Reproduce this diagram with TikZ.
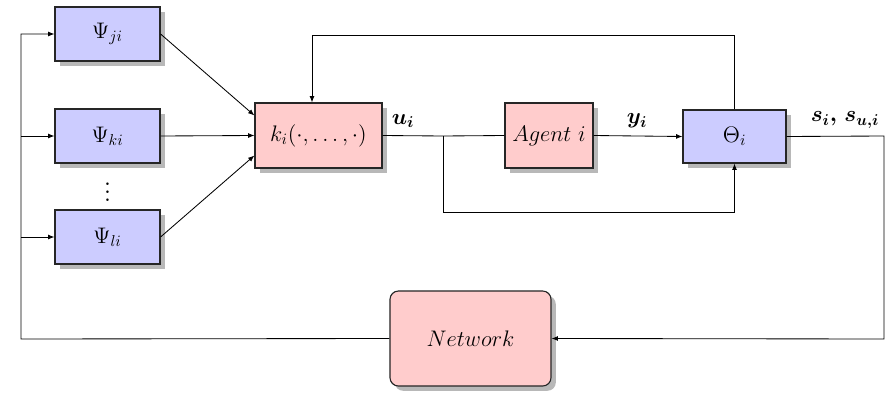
\RequirePackage{fix-cm}
\documentclass[tikz,border=0pt]{standalone}
\usepackage{bm}
\usetikzlibrary{arrows.meta,shadows}

\tikzset{
  blk/.style={draw=black!85, line width=0.8pt, inner sep=2pt,
    drop shadow={shadow xshift=0.12cm, shadow yshift=-0.12cm, fill=black!28, opacity=1}},
  psibox/.style={blk, fill=blue!20, minimum width=2.625cm, minimum height=1.35cm},
  pinkbox/.style={blk, fill=red!20, minimum height=1.625cm},
  lab/.style={inner sep=1pt}
}

\begin{document}
\begin{tikzpicture}[x=0.025cm, y=-0.025cm, line width=0.6pt,
    >={Latex[length=4.5pt,width=3.5pt]}, font=\fontsize{16}{19}\selectfont]
    \useasboundingbox (0,0) rectangle (885,394);

    % Blocchi Psi
    \node[psibox] (psij) at (107.5,34) {$\Psi_{ji}$};
    \node[psibox] (psik) at (107.5,136) {$\Psi_{ki}$};
    \node[scale=1.4] (dots) at (107.5,186) {$\vdots$};
    \node[psibox] (psil) at (107.5,237) {$\Psi_{li}$};

    % Controllore, agente e osservatore
    \node[pinkbox, minimum width=3.175cm] (ctrl) at (318.5,135.5) {$k_i(\cdot,\ldots,\cdot)$};
    \node[pinkbox, minimum width=2.2cm] (agent) at (549,135.5) {$Agent\ i$};
    \node[psibox, minimum width=2.575cm, minimum height=1.325cm] (theta) at (734.5,136.5) {$\Theta_i$};

    % Rete
    \node[pinkbox, rounded corners=6pt, minimum width=4.025cm, minimum height=2.375cm] (net) at (470.5,338.5) {$Network$};

    % Etichette dei segnali
    \node[lab] (ulab) at (403,121) {$\bm{u_i}$};
    \node[lab] (ylab) at (637,121) {$\bm{y_i}$};
    \node[lab] (slab) at (845,120) {$\bm{s_i,\, s_{u,i}}$};

    % Punti di snodo
    \coordinate (busb) at (21,339);
    \coordinate (top) at (312,35);
    \coordinate (split) at (443,136);
    \coordinate (low) at (443,212);
    \coordinate (rt) at (884,136);
    \coordinate (rb) at (884,339);

    % Bus di sinistra verso i Psi
    \draw[->] (net.west) -- (busb) |- (psij.west);
    \draw[->] (busb |- psik.west) -- (psik.west);
    \draw[->] (busb |- psil.west) -- (psil.west);

    % Ingressi del controllore
    \draw[->] (psij.east) -- ([yshift=0.5cm]ctrl.west);
    \draw[->] (psik.east) -- (ctrl.west);
    \draw[->] (psil.east) -- ([yshift=-0.5cm]ctrl.west);
    \draw[->] (theta.north) |- (top) -- (top |- ctrl.north);

    % Catena u -> agente -> Theta
    \draw (ctrl.east) -- (split) -- (agent.west);
    \draw[->] (split) -- (low) -| (theta.south);
    \draw[->] (agent.east) -- (theta.west);

    % Ritorno verso la rete
    \draw[->] (theta.east) -- (rt) -- (rb) -- (net.east);
\end{tikzpicture}
\end{document}
